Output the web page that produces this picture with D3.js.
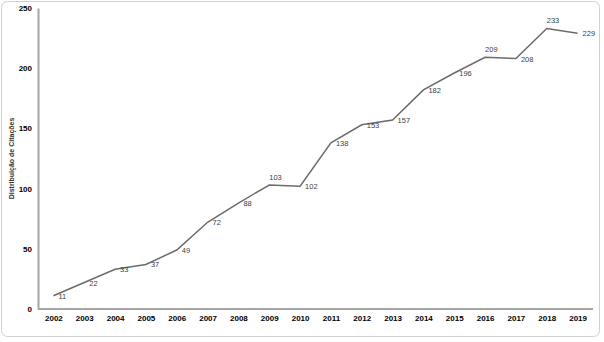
<!DOCTYPE html>
<html lang="pt">
<head>
  <meta charset="UTF-8">
  <title>Distribuição de Citações</title>
  <style>
    body { margin: 0; background: #fff; overflow: hidden; }
    svg { display: block; font-family: "Liberation Sans", Arial, sans-serif; }
    .axis-line { stroke: #a6a6a6; stroke-width: 2; }
    .tick-label { font-size: 8px; font-weight: bold; fill: #000; }
    .value-label { font-size: 7.5px; fill: #404040; }
  </style>
</head>
<body>
  <script src="https://d3js.org/d3.v7.min.js"></script>
  <script>
    // anos e número de citações
    const years = [2002, 2003, 2004, 2005, 2006, 2007, 2008, 2009, 2010,
                   2011, 2012, 2013, 2014, 2015, 2016, 2017, 2018, 2019];
    const citations = [11, 22, 33, 37, 49, 72, 88, 103, 102,
                       138, 153, 157, 182, 196, 209, 208, 233, 229];
    const yTicks = [0, 50, 100, 150, 200, 250];
    const yTitle = "Distribuição de Citações";

    const width = 604, height = 342;
    const plotLeft = 38, plotRight = 593, plotTop = 8, plotBottom = 309;

    const svg = d3.select("body").append("svg")
      .attr("width", width)
      .attr("height", height);

    // moldura arredondada
    svg.append("rect")
      .attr("x", 1.5).attr("y", 1.5)
      .attr("width", 598).attr("height", 335)
      .attr("rx", 6)
      .attr("fill", "#fff")
      .attr("stroke", "#d0d0d0")
      .attr("stroke-width", 1);

    const x = d3.scalePoint()
      .domain(years)
      .range([plotLeft, plotRight])
      .padding(0.5);

    const y = d3.scaleLinear()
      .domain([0, 250])
      .range([plotBottom, plotTop]);

    // eixo y
    const yAxis = svg.append("g")
      .attr("transform", `translate(${plotLeft},0)`)
      .call(d3.axisLeft(y).tickValues(yTicks).tickSize(0).tickPadding(6));
    yAxis.select(".domain").attr("class", "axis-line").attr("stroke", null);
    yAxis.selectAll("text").attr("class", "tick-label");
    yAxis.attr("font-size", null).attr("font-family", null);

    // eixo x
    const xAxis = svg.append("g")
      .attr("transform", `translate(0,${plotBottom})`)
      .call(d3.axisBottom(x).tickSize(0).tickPadding(6).tickSizeOuter(0));
    xAxis.select(".domain").attr("class", "axis-line").attr("stroke", null)
      .attr("d", `M${plotLeft},0H${plotRight}`);
    xAxis.selectAll("text").attr("class", "tick-label");
    xAxis.attr("font-size", null).attr("font-family", null);

    // título do eixo y
    svg.append("text")
      .attr("transform", `translate(14,${(plotTop + plotBottom) / 2}) rotate(-90)`)
      .attr("text-anchor", "middle")
      .attr("font-size", "7px")
      .attr("font-weight", "bold")
      .attr("fill", "#333")
      .text(yTitle);

    const data = years.map((yr, i) => ({ year: yr, value: citations[i] }));

    // linha
    svg.append("path")
      .datum(data)
      .attr("fill", "none")
      .attr("stroke", "#6b6b6b")
      .attr("stroke-width", 1.5)
      .attr("d", d3.line().x(d => x(d.year)).y(d => y(d.value)));

    // rótulos: acima nos picos locais, à direita nos demais
    svg.append("g")
      .selectAll("text")
      .data(data)
      .join("text")
      .attr("class", "value-label")
      .each(function(d, i) {
        const peak = i < data.length - 1 && data[i + 1].value < d.value;
        d3.select(this)
          .attr("x", x(d.year) + (peak ? 0 : 5))
          .attr("y", y(d.value) + (peak ? -5 : 3))
          .attr("text-anchor", "start");
      })
      .text(d => d.value);
  </script>
</body>
</html>
